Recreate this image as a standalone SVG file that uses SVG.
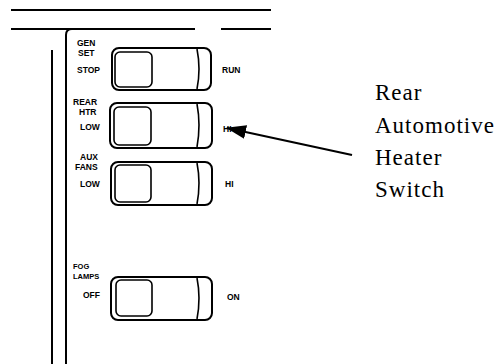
<svg xmlns="http://www.w3.org/2000/svg" width="503" height="364" viewBox="0 0 503 364">
<style>
.ln{fill:none;stroke:#000;stroke-width:2;stroke-linecap:square}
.outer{fill:none;stroke:#000;stroke-width:2}
.inner{fill:none;stroke:#000;stroke-width:1.6}
.div{fill:none;stroke:#000;stroke-width:1.6}
.lbl{font-family:"Liberation Sans",Arial,sans-serif;font-weight:bold;font-size:8.5px;fill:#000}
.sm{font-size:7.5px}
.cap{font-family:"Liberation Serif","Times New Roman",serif;font-size:23px;letter-spacing:1px;fill:#000}
</style>
<defs>
<marker id="ah" viewBox="0 0 20 14" refX="19" refY="7" markerWidth="20" markerHeight="14" markerUnits="userSpaceOnUse" orient="auto">
<path d="M0,0 L20,7 L0,14 Z" fill="#000"/>
</marker>
</defs>
<g id="panel">
<path class="ln" d="M12,10 H270"/>
<path class="ln" d="M12,29 H194"/>
<path class="ln" d="M222,29 H270"/>
<path class="ln" d="M52,51 V364"/>
<path class="ln" d="M66,364 V35 Q66,29 72,29"/>
</g>
<g id="gen-set">
<rect class="outer" x="112" y="48" width="99" height="42" rx="7"/>
<rect class="inner" x="115" y="52" width="37" height="35" rx="5"/>
<path class="div" d="M197,49 Q201,69 197,89"/>
<text class="lbl" x="77" y="46">GEN</text>
<text class="lbl" x="78" y="56">SET</text>
<text class="lbl" x="77" y="73">STOP</text>
<text class="lbl" x="222" y="73">RUN</text>
</g>
<g id="rear-htr">
<rect class="outer" x="110" y="103" width="102" height="45" rx="7"/>
<rect class="inner" x="114" y="107" width="37" height="38" rx="5"/>
<path class="div" d="M197,104 Q201,125 197,147"/>
<text class="lbl" x="73" y="105">REAR</text>
<text class="lbl" x="79" y="115">HTR</text>
<text class="lbl" x="80" y="130">LOW</text>
<text class="lbl" x="223" y="132">HI</text>
</g>
<g id="aux-fans">
<rect class="outer" x="111" y="162" width="101" height="43" rx="7"/>
<rect class="inner" x="115" y="165" width="36" height="37" rx="5"/>
<path class="div" d="M197,163 Q201,183 197,204"/>
<text class="lbl" x="80" y="160">AUX</text>
<text class="lbl" x="75" y="170">FANS</text>
<text class="lbl" x="80" y="187">LOW</text>
<text class="lbl" x="225" y="187">HI</text>
</g>
<g id="fog-lamps">
<rect class="outer" x="111" y="277" width="101" height="43" rx="7"/>
<rect class="inner" x="116" y="280" width="36" height="36" rx="5"/>
<path class="div" d="M197,278 Q201,298 197,319"/>
<text class="lbl sm" x="73" y="269">FOG</text>
<text class="lbl sm" x="73" y="279">LAMPS</text>
<text class="lbl" x="83" y="298">OFF</text>
<text class="lbl" x="227" y="300">ON</text>
</g>
<g id="connectors">
<path d="M352,155 L227,128" fill="none" stroke="#000" stroke-width="2.2" marker-end="url(#ah)"/>
</g>
<g id="caption">
<text class="cap" x="375" y="100">Rear</text>
<text class="cap" x="375" y="133">Automotive</text>
<text class="cap" x="375" y="165">Heater</text>
<text class="cap" x="375" y="197">Switch</text>
</g>
</svg>
